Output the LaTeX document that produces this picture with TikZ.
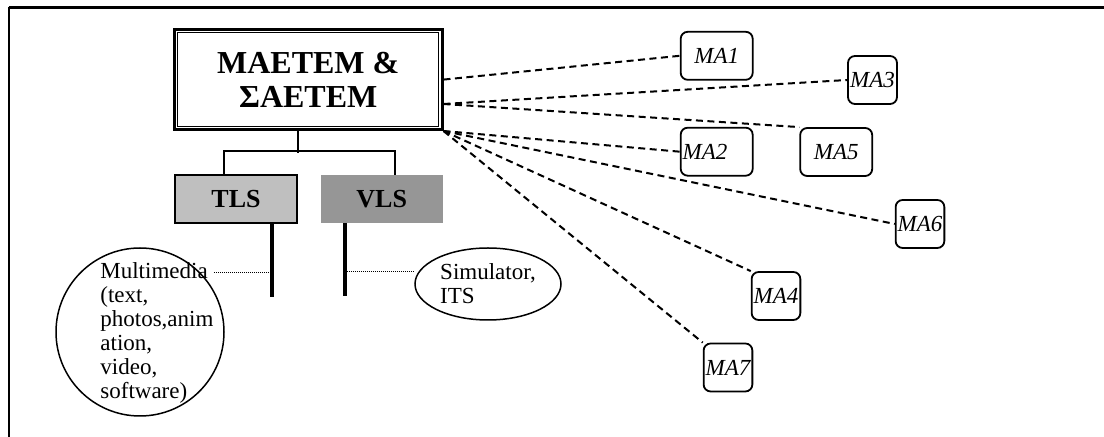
\documentclass[tikz,border=0pt]{standalone}
\usepackage{fontspec}
\setmainfont{Liberation Serif}
\usetikzlibrary{calc,positioning,shapes.geometric}

\begin{document}
\begin{tikzpicture}[
                x=0.5pt, y=-0.5pt,
                headbox/.style={draw, line width=1.5pt, minimum width=133.75pt, minimum height=49.9pt, align=center, inner sep=0pt, font=\bfseries\fontsize{16}{17.2}\selectfont},
                lsbox/.style={minimum width=60.85pt, minimum height=24pt, inner sep=0pt, font=\bfseries\fontsize{13}{15}\selectfont},
                mabox/.style={draw, line width=0.9pt, rounded corners=3.5pt, minimum height=24pt, inner sep=1pt, font=\itshape\fontsize{11.5}{12}\selectfont},
                macentre/.style={},
                maleft/.style={text width=34pt, align=left},
                note/.style={align=left, inner sep=0pt, font=\fontsize{11.5}{12}\selectfont},
                link/.style={line width=1pt, dash pattern=on 3.5pt off 2.25pt},
                tree/.style={line width=1pt},
                stalk/.style={line width=1.6pt},
                dotline/.style={line width=0.6pt, dash pattern=on 0.5pt off 0.5pt}
            ]
                \useasboundingbox (0,0) rectangle (1104,437);
                % frame
                \draw[line width=1.5pt] (8.7,7.5) -- (1104,7.5);
                \draw[line width=1pt] (8.7,437) -- (8.7,7.5);
                % head box with double border
                \node[headbox] (head) at (308.25,79.6) {MAETEM \&\\ΣAETEM};
                \draw[line width=0.6pt] ([shift={(4.7,4.7)}]head.north west) rectangle ([shift={(-4.7,-4.7)}]head.south east);
                % learning systems
                \node[lsbox, draw, line width=1pt, fill=black!25] (tls) at (236,199) {TLS};
                \node[lsbox, fill=black!41, right=11.3pt of tls] (vls) {VLS};
                \draw[tree] (head.south -| tls.east) -- ++(0,22.5);
                \draw[tree] ([xshift=-6pt]tls.north) -- ++(0,-23) -| ([xshift=6.5pt]vls.north);
                \draw[stalk] ([xshift=18pt]tls.south) -- ++(0,73) coordinate[pos=0.66] (tlsjoin);
                \draw[stalk] ([xshift=-18.4pt]vls.south) -- ++(0,73) coordinate[pos=0.66] (vlsjoin);
                % contents
                \node[draw, circle, line width=0.75pt, minimum size=84pt, inner sep=0pt] (media) at (140,332) {};
                \node[note, anchor=north west] (mmtext) at (100,262) {Multimedia\\(text,\\photos,anim\\ation,\\video,\\software)};
                \node[note, draw, ellipse, line width=0.75pt, minimum width=73pt, minimum height=36pt] (sim) at (488,284) {Simulator,\\ITS};
                \draw[dotline] (mmtext.east |- tlsjoin) -- (tlsjoin);
                \draw[dotline] (vlsjoin) -- (vlsjoin -| sim.west);
                % MA boxes
                \foreach \n/\x/\y/\w/\al in {1/716.7/55.8/36/macentre, 3/872.5/80/24.5/macentre, 2/716.7/151.7/36/maleft, 5/836.2/152/36/macentre, 6/920/224/24/macentre, 4/776/296/24/macentre, 7/728/367.5/24/macentre} {
                    \node[mabox, minimum width=\w pt, \al] (ma\n) at (\x,\y) {MA\n};
                }
                \coordinate (headlow) at ($(head.east)+(0,24.4)$);
                \draw[link] (head.east) -- (ma1.west);
                \draw[link] (headlow) -- (ma3.west);
                \draw[link] (headlow) -- (ma5.north west);
                \foreach \t in {ma2.west, ma6.west, ma4.north west, ma7.north west} {
                    \draw[link] (head.south east) -- (\t);
                }
            \end{tikzpicture}
\end{document}
